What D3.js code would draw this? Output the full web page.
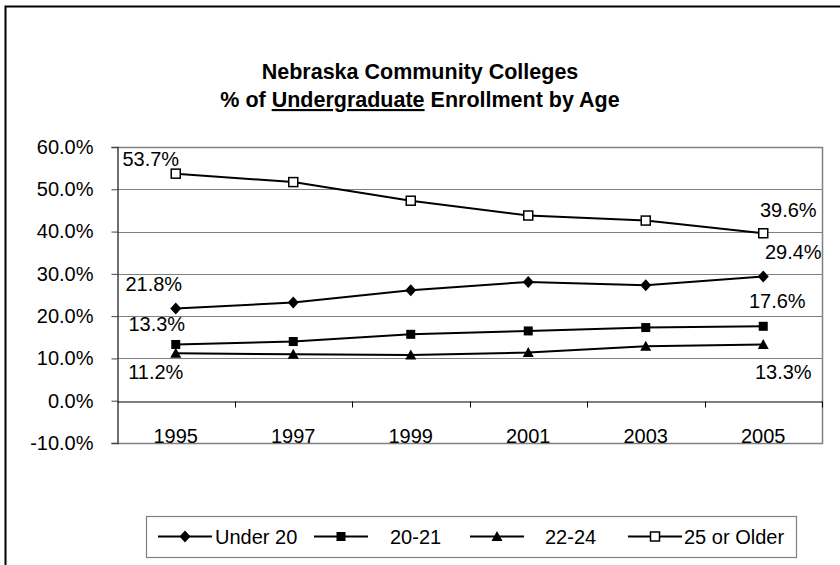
<!DOCTYPE html>
<html>
<head>
<meta charset="utf-8">
<script src="https://cdn.jsdelivr.net/npm/d3@7/dist/d3.min.js"></script>
<style>
  html, body { margin: 0; padding: 0; background: #fff; }
  svg { display: block; font-family: Arial, "Liberation Sans", sans-serif; }
</style>
</head>
<body>
<svg id="chart" width="840" height="565"></svg>
<script>
// ---- data ----
const years = ["1995", "1997", "1999", "2001", "2003", "2005"];
const under20 = [21.8, 23.2, 26.1, 28.1, 27.3, 29.4];
const age20to21 = [13.3, 14.0, 15.7, 16.5, 17.3, 17.6];
const age22to24 = [11.2, 11.0, 10.8, 11.4, 12.9, 13.3];
const older25 = [53.7, 51.7, 47.3, 43.8, 42.6, 39.6];
const seriesNames = ["Under 20", "20-21", "22-24", "25 or Older"];
const yTickValues = [-10, 0, 10, 20, 30, 40, 50, 60];
const titleLine1 = "Nebraska Community Colleges";

const series = [
  { name: seriesNames[0], values: under20, marker: "diamond" },
  { name: seriesNames[1], values: age20to21, marker: "square" },
  { name: seriesNames[2], values: age22to24, marker: "triangle" },
  { name: seriesNames[3], values: older25, marker: "open" }
];

// labels shown on first and last points: [seriesIndex, pointIndex, dx, dy]
const labelSpec = [
  [3, 0, -25, -15], [0, 0, -22, -25], [1, 0, -19, -20], [2, 0, -20, 19],
  [3, 5, 25, -23], [0, 5, 30, -24], [1, 5, 14, -25], [2, 5, 20, 28]
];

// ---- layout ----
const svg = d3.select("#chart");
const plot = { left: 117, right: 822, top: 147, bottom: 443 };
const FONT = 20;

const x = d3.scaleBand().domain(years).range([plot.left, plot.right]);
const cx = d => x(d) + x.bandwidth() / 2;
const y = d3.scaleLinear().domain([-10, 60]).range([plot.bottom, plot.top]);

// outer chart border (extends beyond the window at right/bottom)
svg.append("path")
  .attr("d", "M5.5,600 L5.5,6.5 L900,6.5")
  .attr("fill", "none").attr("stroke", "#000").attr("stroke-width", 2);

// title
const title = svg.append("text")
  .attr("text-anchor", "middle")
  .attr("font-weight", "bold")
  .attr("font-size", 21.5)
  .attr("fill", "#000");
title.append("tspan").attr("x", 420).attr("y", 79).text(titleLine1);
const t2 = title.append("tspan").attr("x", 420).attr("y", 107);
t2.append("tspan").text("% of ");
t2.append("tspan").attr("text-decoration", "underline").text("Undergraduate");
t2.append("tspan").text(" Enrollment by Age");

// gridlines
svg.append("g")
  .selectAll("line")
  .data(yTickValues.filter(v => v !== 0 && v !== -10 && v !== 60))
  .join("line")
  .attr("x1", plot.left).attr("x2", plot.right)
  .attr("y1", d => Math.round(y(d)) + 0.5).attr("y2", d => Math.round(y(d)) + 0.5)
  .attr("stroke", "#808080").attr("stroke-width", 1);

// plot border (top, right, bottom)
svg.append("path")
  .attr("d", `M${plot.left},${Math.round(plot.top) + 0.5} H${plot.right + 0.5} V${plot.bottom + 0.5} H${plot.left}`)
  .attr("fill", "none").attr("stroke", "#808080").attr("stroke-width", 1.5);

// y axis
const yAxis = d3.axisLeft(y)
  .tickValues(yTickValues)
  .tickSize(6)
  .tickPadding(18)
  .tickFormat(d => d.toFixed(1) + "%");
const gy = svg.append("g").attr("transform", `translate(${plot.left + 0.5},0)`).call(yAxis);
gy.select(".domain").attr("stroke", "#404040").attr("stroke-width", 1.5);
gy.selectAll(".tick line").attr("stroke", "#404040");
gy.selectAll(".tick text")
  .attr("font-size", FONT)
  .attr("font-family", "Arial, 'Liberation Sans', sans-serif")
  .attr("fill", "#000");

// x axis at 0%
const xAxis = d3.axisBottom(x).tickValues([]).tickSizeOuter(0);
const gx = svg.append("g").attr("transform", `translate(0,${Math.round(y(0)) + 0.5})`).call(xAxis);
gx.select(".domain").attr("stroke", "#000").attr("stroke-width", 1.2);
// category boundary tick marks
const boundaries = years.map(d => x(d)).concat([plot.right]);
gx.selectAll(".bt").data(boundaries.slice(1)).join("line")
  .attr("class", "bt")
  .attr("x1", d => Math.round(d) + 0.5).attr("x2", d => Math.round(d) + 0.5)
  .attr("y1", 0).attr("y2", 6)
  .attr("stroke", "#000").attr("stroke-width", 1);

// category labels (low position)
svg.append("g").selectAll("text").data(years).join("text")
  .attr("x", d => cx(d)).attr("y", plot.bottom - 0.5)
  .attr("text-anchor", "middle")
  .attr("font-size", FONT).attr("fill", "#000")
  .text(d => d);

// markers
function drawMarker(g, type) {
  if (type === "diamond") {
    g.append("path").attr("d", "M0,-6 L5.5,0 L0,6 L-5.5,0 Z").attr("fill", "#000");
  } else if (type === "square") {
    g.append("rect").attr("x", -4.5).attr("y", -4.5).attr("width", 9).attr("height", 9).attr("fill", "#000");
  } else if (type === "triangle") {
    g.append("path").attr("d", "M0,-5.5 L5.5,4.5 L-5.5,4.5 Z").attr("fill", "#000");
  } else {
    g.append("rect").attr("x", -4.5).attr("y", -4.5).attr("width", 9).attr("height", 9)
      .attr("fill", "#fff").attr("stroke", "#000").attr("stroke-width", 1.5);
  }
}

const line = d3.line().x((v, i) => cx(years[i])).y(v => y(v));
const gs = svg.append("g");
series.forEach(s => {
  gs.append("path").attr("d", line(s.values))
    .attr("fill", "none").attr("stroke", "#000").attr("stroke-width", 2);
  s.values.forEach((v, i) => {
    const g = gs.append("g").attr("transform", `translate(${cx(years[i])},${y(v)})`);
    drawMarker(g, s.marker);
  });
});

// data labels
svg.append("g").selectAll("text").data(labelSpec).join("text")
  .attr("x", d => cx(years[d[1]]) + d[2])
  .attr("y", d => y(series[d[0]].values[d[1]]) + d[3])
  .attr("dy", "0.35em")
  .attr("text-anchor", "middle")
  .attr("font-size", FONT).attr("fill", "#000")
  .text(d => series[d[0]].values[d[1]].toFixed(1) + "%");

// legend
const legend = { x: 146, y: 516, w: 650, h: 41 };
svg.append("rect")
  .attr("x", legend.x + 0.5).attr("y", legend.y + 0.5)
  .attr("width", legend.w).attr("height", legend.h)
  .attr("fill", "#fff").attr("stroke", "#808080").attr("stroke-width", 1.2);
const legendItemX = [158, 314, 470, 628];
const legendTextX = [215, 390, 545, 684];
const ly = legend.y + legend.h / 2;
series.forEach((s, i) => {
  const g = svg.append("g");
  g.append("line").attr("x1", legendItemX[i]).attr("x2", legendItemX[i] + 54)
    .attr("y1", ly).attr("y2", ly).attr("stroke", "#000").attr("stroke-width", 2);
  const m = g.append("g").attr("transform", `translate(${legendItemX[i] + 27},${ly})`);
  drawMarker(m, s.marker);
  g.append("text").attr("x", legendTextX[i]).attr("y", ly).attr("dy", "0.35em")
    .attr("font-size", FONT).attr("fill", "#000").text(s.name);
});
</script>
</body>
</html>
